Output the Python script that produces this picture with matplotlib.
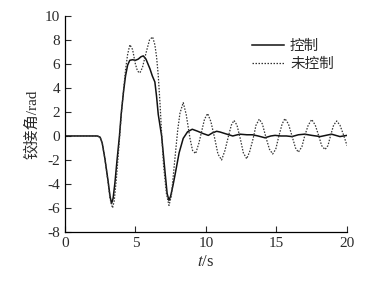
import matplotlib
matplotlib.use("Agg")
import matplotlib.pyplot as plt

plt.rcParams["axes.unicode_minus"] = False
plt.rcParams["mathtext.fontset"] = "stix"

# values
t_ctrl = [0, 2.3, 2.5, 2.65, 2.84, 3.07, 3.2, 3.31, 3.42, 3.55, 3.7, 3.87, 4.0,
          4.16, 4.3, 4.45, 4.6, 4.8, 5.0, 5.2, 5.4, 5.56, 5.75, 6.03, 6.2, 6.38,
          6.5, 6.62, 6.86, 7.1, 7.25, 7.38, 7.5, 7.65, 7.8, 8.1, 8.39, 8.7, 9.03,
          9.4, 9.8, 10.17, 10.45, 10.76, 11.0, 11.35, 11.9, 12.4, 12.9, 13.3,
          13.7, 14.18, 14.6, 14.9, 15.3, 15.7, 16.1, 16.55, 17.0, 17.5, 18.1,
          18.5, 18.9, 19.5, 20]
v_ctrl = [0, 0, -0.1, -0.6, -1.9, -3.8, -5.0, -5.63, -5.2, -3.9, -2.0, 0, 1.9,
          3.7, 5.0, 5.9, 6.3, 6.35, 6.3, 6.4, 6.6, 6.67, 6.4, 5.6, 5.0, 4.5,
          3.3, 1.8, 0, -3.0, -4.8, -5.36, -5.0, -4.2, -3.3, -1.4, -0.2, 0.35, 0.56,
          0.4, 0.2, 0.05, 0.25, 0.39, 0.33, 0.2, 0.0, 0.15, 0.1, 0.1,
          0.0, -0.15, 0.0, 0.05, 0.0, 0.0, -0.05, 0.1, 0.15, 0.05, -0.05,
          0.05, 0.15, -0.05, 0.05]

t_free = [0, 2.3, 2.5, 2.65, 2.84, 3.07, 3.2, 3.38, 3.5, 3.65, 3.87, 4.0, 4.16,
          4.3, 4.45, 4.61, 4.8, 5.0, 5.15, 5.32, 5.5, 5.75, 6.0, 6.22, 6.38, 6.5,
          6.62, 6.75, 6.86, 7.0, 7.2, 7.38, 7.55, 7.8, 8.0, 8.16, 8.39, 8.6, 8.87,
          9.05, 9.27, 9.5, 9.7, 9.9, 10.12, 10.35, 10.64, 10.85, 11.11, 11.35,
          11.6, 11.8, 11.99, 12.2, 12.45, 12.65, 12.89, 13.1, 13.35, 13.55, 13.78,
          14.0, 14.25, 14.5, 14.73, 14.95, 15.15, 15.4, 15.6, 15.85, 16.1, 16.35,
          16.55, 16.8, 17.0, 17.25, 17.5, 17.75, 18.0, 18.2, 18.44, 18.65, 18.85,
          19.05, 19.27, 19.5, 19.75, 20.0]
v_free = [0, 0, -0.1, -0.6, -1.9, -3.9, -5.2, -6.0, -5.4, -3.6, -0.3, 1.8, 3.8,
          5.5, 6.8, 7.6, 7.2, 6.0, 5.4, 5.25, 5.7, 6.9, 8.0, 8.25, 7.6, 6.6,
          5.06, 2.6, 0.2, -2.5, -4.8, -5.78, -5.0, -1.9, 0.5, 1.9, 2.78, 1.8, -0.2,
          -1.2, -1.47, -0.6, 0.4, 1.4, 1.87, 1.2, -0.3, -1.5, -2.0, -1.2,
          0.0, 0.9, 1.3, 0.9, -0.3, -1.4, -1.9, -1.3, -0.2, 0.9, 1.4,
          1.0, -0.1, -1.1, -1.5, -1.1, -0.1, 1.0, 1.45, 1.0, 0.0, -1.0,
          -1.35, -0.9, 0.0, 0.9, 1.37, 0.9, 0.0, -0.8, -1.13, -0.8, 0.1,
          0.9, 1.25, 0.9, 0.1, -0.8]

labels = ["控制", "未控制"]
serif = ["Liberation Serif", "Noto Sans CJK SC"]
txt = "#2a2a2a"

fig = plt.figure(figsize=(3.86, 2.84), dpi=100)
ax = fig.add_axes([0.168, 0.183, 0.731, 0.761])

ax.plot(t_ctrl, v_ctrl, color="#111111", lw=1.1, label=labels[0])
ax.plot(t_free, v_free, color="#333333", lw=0.9, ls=(0, (1.2, 1.2)), label=labels[1])

ax.set_xlim(0, 20)
ax.set_ylim(-8, 10)
ax.set_xticks([0, 5, 10, 15, 20])
ax.set_yticks(range(-8, 11, 2))
for s in ("top", "right"):
    ax.spines[s].set_visible(False)
for s in ("left", "bottom"):
    ax.spines[s].set_linewidth(0.9)
ax.tick_params(direction="in", length=4, width=0.8, labelsize=11, colors=txt)
for lb in ax.get_xticklabels() + ax.get_yticklabels():
    lb.set_family(serif)

ax.set_xlabel("$t$/s", fontsize=12, family=serif, color=txt, labelpad=3)
ax.set_ylabel("铰接角/rad", fontsize=11, family=serif, color=txt, labelpad=4)

leg = ax.legend(loc="upper right", bbox_to_anchor=(1.0, 0.95), frameon=False,
                prop={"family": serif, "size": 10.5}, handlelength=2.2,
                handletextpad=0.4, labelspacing=0.3)
for tx in leg.get_texts():
    tx.set_color(txt)

fig.savefig("out.png", dpi=100)
